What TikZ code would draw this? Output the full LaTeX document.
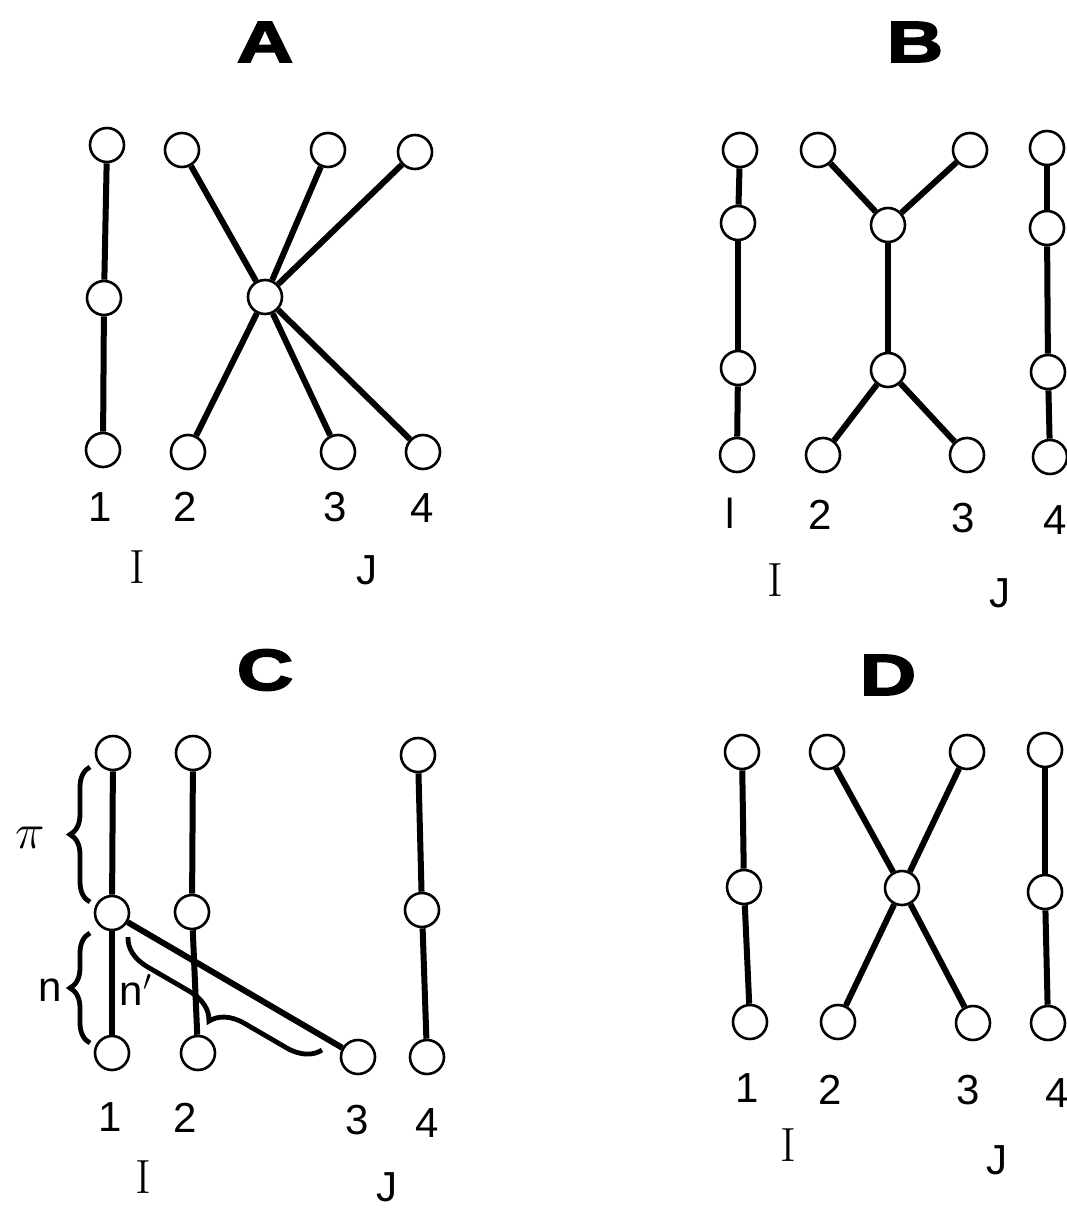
\documentclass[tikz,border=0pt]{standalone}
\usepackage{fontspec}
\setsansfont{Liberation Sans}
\newfontfamily\panelfont{Liberation Sans}[BoldFeatures={FakeBold=3,FakeStretch=1.35}]
\usepackage{tikz}
\usetikzlibrary{decorations.pathreplacing}

\tikzset{
  vtx/.style={circle, draw, line width=1.3pt, fill=white, minimum size=17pt, inner sep=0pt},
  bond/.style={line width=3pt},
  numlabel/.style={font=\sffamily\fontsize{21}{24}\selectfont},
  grplabel/.style={font=\rmfamily\fontsize{24}{26}\selectfont},
  paneltag/.style={font=\panelfont\bfseries\fontsize{29}{32}\selectfont},
  curly/.style={decorate, decoration={brace, amplitude=#1}, line width=2.4pt},
}

\begin{document}
\begin{tikzpicture}[x=0.5pt, y=-0.5pt]
  \useasboundingbox (0,0) rectangle (1066,1209);

  % panel A
  \node[paneltag] (tagA) at (265,42) {A};
  \node[vtx] (a1t) at (107,145) {};
  \node[vtx] (a1m) at (104,298) {};
  \node[vtx] (a1b) at (103,450) {};
  \node[vtx] (a2t) at (182,150) {};
  \node[vtx] (a3t) at (328,150) {};
  \node[vtx] (a4t) at (415,152) {};
  \node[vtx] (ac)  at (265,297) {};
  \node[vtx] (a2b) at (188,452) {};
  \node[vtx] (a3b) at (338,452) {};
  \node[vtx] (a4b) at (423,452) {};
  \draw[bond] (a1t) -- (a1m);
  \draw[bond] (a1m) -- (a1b);
  \draw[bond] (a2t) -- (ac);
  \draw[bond] (a3t) -- (ac);
  \draw[bond] (a4t) -- (ac);
  \draw[bond] (ac) -- (a2b);
  \draw[bond] (ac) -- (a3b);
  \draw[bond] (ac) -- (a4b);
  \node[numlabel] (an1) at (100,507) {1};
  \node[numlabel] (an2) at (185,507) {2};
  \node[numlabel] (an3) at (335,507) {3};
  \node[numlabel] (an4) at (422,508) {4};
  \node[grplabel] (aI) at (137,567) {I};
  \node[numlabel] (aJ) at (367,570) {J};

  % panel B
  \node[paneltag] (tagB) at (915,42) {B};
  \node[vtx] (b1t) at (740,150) {};
  \node[vtx] (b1u) at (738,223) {};
  \node[vtx] (b1l) at (738,368) {};
  \node[vtx] (b1b) at (737,455) {};
  \node[vtx] (b2t) at (818,150) {};
  \node[vtx] (b3t) at (970,150) {};
  \node[vtx] (bcu) at (888,225) {};
  \node[vtx] (bcl) at (888,370) {};
  \node[vtx] (b2b) at (823,455) {};
  \node[vtx] (b3b) at (967,455) {};
  \node[vtx] (b4t) at (1047,148) {};
  \node[vtx] (b4u) at (1047,228) {};
  \node[vtx] (b4l) at (1048,372) {};
  \node[vtx] (b4b) at (1050,457) {};
  \draw[bond] (b1t) -- (b1u);
  \draw[bond] (b1u) -- (b1l);
  \draw[bond] (b1l) -- (b1b);
  \draw[bond] (b2t) -- (bcu);
  \draw[bond] (b3t) -- (bcu);
  \draw[bond] (bcu) -- (bcl);
  \draw[bond] (bcl) -- (b2b);
  \draw[bond] (bcl) -- (b3b);
  \draw[bond] (b4t) -- (b4u);
  \draw[bond] (b4u) -- (b4l);
  \draw[bond] (b4l) -- (b4b);
  \node[numlabel] (bn1) at (730,513) {l};
  \node[numlabel] (bn2) at (820,515) {2};
  \node[numlabel] (bn3) at (963,518) {3};
  \node[numlabel] (bn4) at (1055,520) {4};
  \node[grplabel] (bI) at (775,580) {I};
  \node[numlabel] (bJ) at (1000,593) {J};

  % panel C
  \node[paneltag] (tagC) at (265,670) {C};
  \node[vtx] (c1t) at (113,753) {};
  \node[vtx] (c1m) at (112,913) {};
  \node[vtx] (c1b) at (112,1053) {};
  \node[vtx] (c2t) at (193,753) {};
  \node[vtx] (c2m) at (192,912) {};
  \node[vtx] (c2b) at (198,1053) {};
  \node[vtx] (c3b) at (358,1057) {};
  \node[vtx] (c4t) at (418,755) {};
  \node[vtx] (c4m) at (422,910) {};
  \node[vtx] (c4b) at (427,1057) {};
  \draw[bond] (c1t) -- (c1m);
  \draw[bond] (c1m) -- (c1b);
  \draw[bond] (c2t) -- (c2m);
  \draw[bond] (c2m) -- (c2b);
  \draw[bond] (c1m) -- (c3b);
  \draw[bond] (c4t) -- (c4m);
  \draw[bond] (c4m) -- (c4b);
  % braces
  \coordinate (piLo) at (90,902);
  \coordinate (piHi) at (90,767);
  \coordinate (nLo) at (90,1043);
  \coordinate (nHi) at (90,933);
  \coordinate (npLo) at (322,1050);
  \coordinate (npHi) at (128,937);
  \draw[curly=10pt] (piLo) -- (piHi);
  \draw[curly=10pt] (nLo) -- (nHi);
  \draw[curly=16pt] (npLo) -- (npHi);
  \node[font=\fontsize{38}{40}\selectfont] (piTxt) at (30,838) {$\pi$};
  \node[numlabel] (nTxt) at (50,990) {n};
  \node[numlabel] (npTxt) at (136,990) {n$'$};
  \node[numlabel] (cn1) at (110,1117) {1};
  \node[numlabel] (cn2) at (185,1118) {2};
  \node[numlabel] (cn3) at (357,1120) {3};
  \node[numlabel] (cn4) at (427,1123) {4};
  \node[grplabel] (cI) at (143,1177) {I};
  \node[numlabel] (cJ) at (387,1187) {J};

  % panel D
  \node[paneltag] (tagD) at (888,675) {D};
  \node[vtx] (d1t) at (742,752) {};
  \node[vtx] (d1m) at (744,887) {};
  \node[vtx] (d1b) at (750,1022) {};
  \node[vtx] (d2t) at (827,752) {};
  \node[vtx] (d3t) at (967,752) {};
  \node[vtx] (dc)  at (902,888) {};
  \node[vtx] (d2b) at (838,1022) {};
  \node[vtx] (d3b) at (973,1023) {};
  \node[vtx] (d4t) at (1045,750) {};
  \node[vtx] (d4m) at (1045,892) {};
  \node[vtx] (d4b) at (1048,1023) {};
  \draw[bond] (d1t) -- (d1m);
  \draw[bond] (d1m) -- (d1b);
  \draw[bond] (d2t) -- (dc);
  \draw[bond] (d3t) -- (dc);
  \draw[bond] (dc) -- (d2b);
  \draw[bond] (dc) -- (d3b);
  \draw[bond] (d4t) -- (d4m);
  \draw[bond] (d4m) -- (d4b);
  \node[numlabel] (dn1) at (747,1088) {1};
  \node[numlabel] (dn2) at (830,1090) {2};
  \node[numlabel] (dn3) at (968,1090) {3};
  \node[numlabel] (dn4) at (1057,1093) {4};
  \node[grplabel] (dI) at (788,1145) {I};
  \node[numlabel] (dJ) at (997,1160) {J};
\end{tikzpicture}
\end{document}
